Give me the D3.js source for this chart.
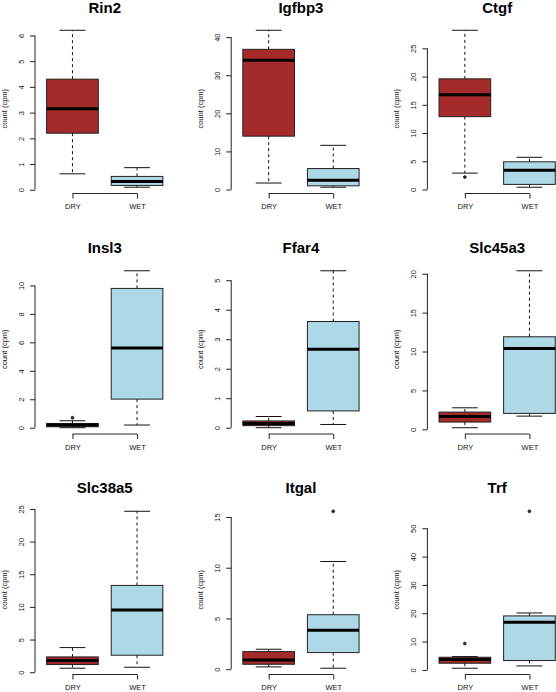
<!DOCTYPE html>
<html>
<head>
<meta charset="utf-8">
<script src="https://cdn.jsdelivr.net/npm/d3@7"></script>
<style>
  html, body { margin: 0; padding: 0; background: #fff; }
  svg { display: block; font-family: "Liberation Sans", Arial, sans-serif; }
</style>
</head>
<body>
<svg id="chart" width="556" height="692"></svg>
<script>
// ---- data ----
const genes = ["Rin2", "Igfbp3", "Ctgf", "Insl3", "Ffar4", "Slc45a3", "Slc38a5", "Itgal", "Trf"];
const groups = ["DRY", "WET"];
const yLabel = "count (cpm)";
// [lower whisker, Q1, median, Q3, upper whisker]
const dryStats = [
  [0.62, 2.2, 3.15, 4.3, 6.2],
  [1.7, 14.0, 33.9, 36.8, 41.8],
  [2.9, 12.9, 16.8, 19.6, 28.2],
  [0.0, 0.07, 0.19, 0.30, 0.49],
  [0.0, 0.07, 0.14, 0.23, 0.38],
  [0.21, 0.94, 1.66, 2.22, 2.77],
  [0.61, 1.17, 1.78, 2.34, 3.77],
  [0.23, 0.49, 0.92, 1.74, 1.97],
  [0.59, 2.35, 3.65, 4.47, 4.7]
];
const wetStats = [
  [0.1, 0.17, 0.32, 0.52, 0.86],
  [0.6, 0.97, 2.45, 5.5, 11.6],
  [0.4, 0.9, 3.4, 4.9, 5.7],
  [0.19, 2.01, 5.60, 9.79, 11.03],
  [0.11, 0.57, 2.66, 3.6, 5.32],
  [1.7, 2.05, 10.4, 11.9, 20.38],
  [0.76, 2.6, 9.52, 13.29, 24.64],
  [0.1, 1.64, 3.83, 5.37, 10.61],
  [1.4, 3.3, 16.8, 19.06, 20.1]
];
const dryOutliers = [[], [], [2.2], [0.70], [], [], [], [], [9.29]];
const wetOutliers = [[], [], [], [], [], [], [], [15.56], [56]];
const yTicks = [
  [0, 1, 2, 3, 4, 5, 6],
  [0, 10, 20, 30, 40],
  [0, 5, 10, 15, 20, 25],
  [0, 2, 4, 6, 8, 10],
  [0, 1, 2, 3, 4, 5],
  [0, 5, 10, 15, 20],
  [0, 5, 10, 15, 20, 25],
  [0, 5, 10, 15],
  [0, 10, 20, 30, 40, 50]
];
const groupColors = ["#a52a2a", "#add8e6"];

// ---- layout ----
const svg = d3.select("#chart");
svg.append("rect").attr("width", 556).attr("height", 692).attr("fill", "#fff");

const colX0 = 35, colStep = 196.2, plotW = 139.5;
const rowTop0 = 24, rowBot0 = 193.5, rowStep = 240.5;
const titleBase0 = 13.3, titleStep = 240;

genes.forEach((gene, i) => {
  const c = i % 3, r = Math.floor(i / 3);
  const left = colX0 + colStep * c;
  const top = rowTop0 + rowStep * r, bottom = rowBot0 + rowStep * r;
  const g = svg.append("g");

  const stats = [dryStats[i], wetStats[i]];
  const outs = [dryOutliers[i], wetOutliers[i]];
  const all = stats.flat().concat(outs.flat());
  const lo = d3.min(all), hi = d3.max(all), pad = 0.04 * (hi - lo);
  const y = d3.scaleLinear().domain([lo - pad, hi + pad]).range([bottom, top]);
  const x = d3.scaleLinear().domain([0.42, 2.58]).range([left, left + plotW]);
  const unit = x(2) - x(1);
  const halfBox = 0.4 * unit, halfStaple = 0.2 * unit;

  // boxes
  stats.forEach((s, k) => {
    const cx = x(k + 1);
    const [wl, q1, med, q3, wh] = s;
    g.append("line").attr("x1", cx).attr("x2", cx).attr("y1", y(q3)).attr("y2", y(wh))
      .attr("stroke", "#111").attr("stroke-dasharray", "3,3");
    g.append("line").attr("x1", cx).attr("x2", cx).attr("y1", y(q1)).attr("y2", y(wl))
      .attr("stroke", "#111").attr("stroke-dasharray", "3,3");
    [wl, wh].forEach(v => {
      g.append("line").attr("x1", cx - halfStaple).attr("x2", cx + halfStaple)
        .attr("y1", y(v)).attr("y2", y(v)).attr("stroke", "#111");
    });
    g.append("rect").attr("x", cx - halfBox).attr("width", 2 * halfBox)
      .attr("y", y(q3)).attr("height", Math.max(0.5, y(q1) - y(q3)))
      .attr("fill", groupColors[k]).attr("stroke", "#222").attr("stroke-width", 1);
    g.append("line").attr("x1", cx - halfBox).attr("x2", cx + halfBox)
      .attr("y1", y(med)).attr("y2", y(med)).attr("stroke", "#000").attr("stroke-width", 3);
    outs[k].forEach(v => {
      g.append("circle").attr("cx", cx).attr("cy", y(v)).attr("r", 1.4)
        .attr("fill", "#333").attr("stroke", "#111").attr("stroke-width", 0.8);
    });
  });

  // y axis
  const ticks = yTicks[i];
  const ya = d3.axisLeft(y).tickValues(ticks).tickSize(5).tickFormat(d3.format("d"));
  const yg = g.append("g").attr("transform", `translate(${left},0)`).call(ya);
  yg.select(".domain").remove();
  yg.selectAll(".tick line").attr("stroke", "#222");
  yg.selectAll(".tick text")
    .attr("x", null).attr("dy", null)
    .attr("transform", "translate(-11.5,0) rotate(-90)")
    .attr("text-anchor", "middle")
    .attr("font-size", 7.5).attr("fill", "#111")
    .style("font-family", "'Liberation Sans', Arial, sans-serif");
  g.append("line").attr("x1", left).attr("x2", left)
    .attr("y1", y(ticks[0])).attr("y2", y(ticks[ticks.length - 1])).attr("stroke", "#222");

  // x axis
  const xa = d3.axisBottom(x).tickValues([1, 2]).tickSize(5).tickPadding(5.5)
    .tickFormat(d => groups[d - 1]);
  const xg = g.append("g").attr("transform", `translate(0,${bottom})`).call(xa);
  xg.select(".domain").remove();
  xg.selectAll(".tick line").attr("stroke", "#222");
  xg.selectAll(".tick text").attr("font-size", 7.5).attr("fill", "#111")
    .style("font-family", "'Liberation Sans', Arial, sans-serif");
  g.append("line").attr("x1", x(1)).attr("x2", x(2)).attr("y1", bottom).attr("y2", bottom)
    .attr("stroke", "#222");

  // y label
  g.append("text")
    .attr("transform", `translate(${left - 28.3},${(top + bottom) / 2}) rotate(-90)`)
    .attr("text-anchor", "middle").attr("font-size", 7.5).attr("fill", "#111")
    .text(yLabel);

  // title
  g.append("text")
    .attr("x", left + plotW / 2).attr("y", titleBase0 + titleStep * r)
    .attr("text-anchor", "middle").attr("font-size", 15).attr("font-weight", "bold")
    .attr("fill", "#000").text(gene);
});
</script>
</body>
</html>
